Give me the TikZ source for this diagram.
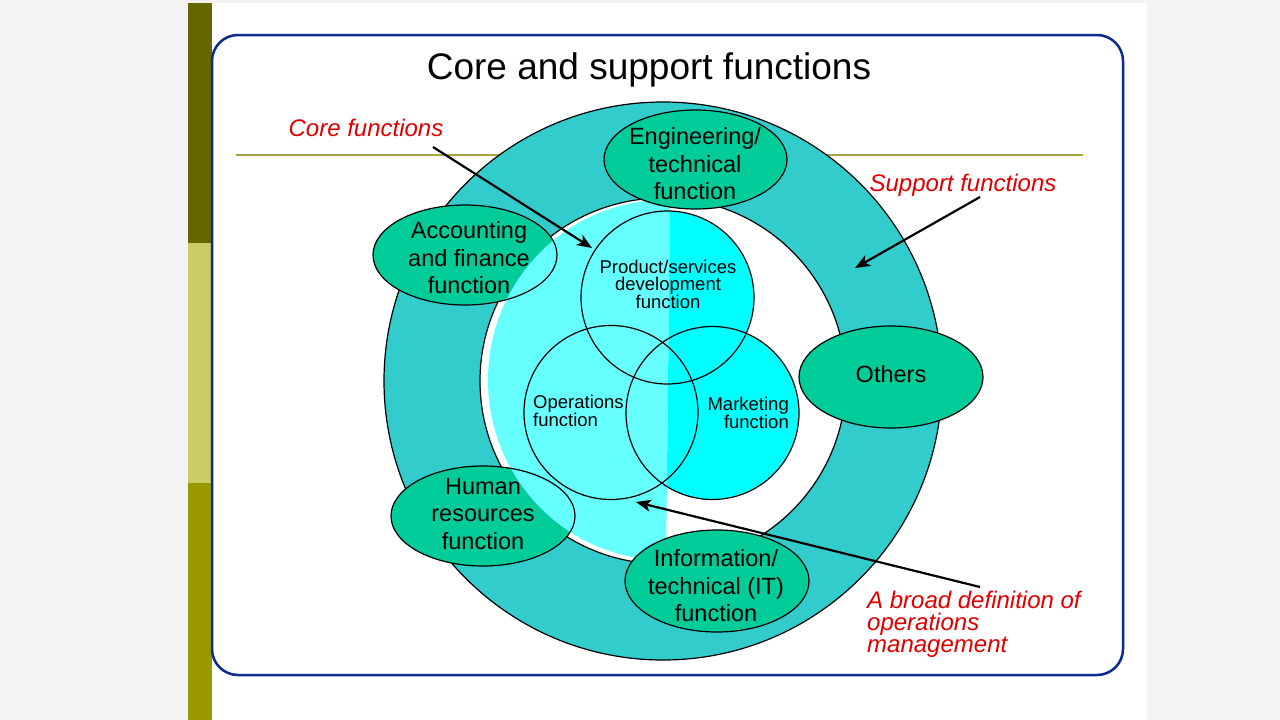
\documentclass[tikz,border=0pt]{standalone}
\usepackage{fontspec}
\setmainfont{Liberation Sans}
\usetikzlibrary{arrows.meta,shapes.geometric}
\definecolor{pagegray}{HTML}{F3F3F3}
\definecolor{bardark}{HTML}{666600}
\definecolor{barlight}{HTML}{CCCC66}
\definecolor{barolive}{HTML}{999900}
\definecolor{framec}{HTML}{0A2C8C}
\definecolor{olivec}{HTML}{A5A53C}
\definecolor{ringc}{HTML}{33CCCC}
\definecolor{greenc}{HTML}{00CC99}
\definecolor{lcyan}{HTML}{66FFFF}
\definecolor{cyanc}{HTML}{00FFFF}
\definecolor{redc}{HTML}{E00000}
\begin{document}
\begin{tikzpicture}[x=1pt,y=-1pt,
  ellfill/.style={fill=greenc},
  elloutline/.style={draw=black,line width=1.2pt},
  elltext/.style={align=center,inner sep=0pt,font=\fontsize{23.5}{27.5}\selectfont},
  venn/.style={circle,draw=black,line width=1.2pt,inner sep=0pt,minimum size=#1},
  venntext/.style={inner sep=0pt,font=\fontsize{18.5}{17.5}\selectfont},
  redlbl/.style={text=redc,inner sep=0pt,font=\fontsize{24}{22}\selectfont\itshape},
  arr/.style={draw=black,line width=2.2pt,-{Stealth[length=15pt,width=12pt,inset=4pt]}}
]
\useasboundingbox (0,0) rectangle (1280,720);
% slide background
\fill[pagegray] (0,0) rectangle (1280,720);
\fill[white] (188,3) rectangle (1147,720);
\fill[bardark] (188,3) rectangle (212,243);
\fill[barlight] (188,243) rectangle (212,483);
\fill[barolive] (188,483) rectangle (212,720);
\draw[framec,line width=2.5pt,rounded corners=26pt] (212,35) rectangle (1123,675);
% title and rule
\node[inner sep=0pt,font=\fontsize{37}{40}\selectfont] (title) at (649,70) {Core and support functions};
\draw[olivec,line width=1.6pt] (236,155) -- (1083,155);
% ring
\fill[ringc,even odd rule] (663,381) circle[radius=279pt] (663,381) circle[radius=183pt];
\draw[black,line width=1.2pt] (663,381) circle[radius=279pt];
\draw[black,line width=1.2pt] (663,381) circle[radius=183pt];
% fills of ellipses that lie under the core area
\path[ellfill] (465,255) ellipse[x radius=92pt,y radius=50pt];
\path[ellfill] (483,516) ellipse[x radius=92pt,y radius=50pt];
% light cyan core area
\begin{scope}
  \clip (665,380) ellipse[x radius=177pt,y radius=180pt];
  \fill[lcyan] (400,150) -- (670.6,150) -- (665.6,600) -- (400,600) -- cycle;
\end{scope}
% cyan right halves of circles
\begin{scope}
  \clip (670.6,150) -- (900,150) -- (900,600) -- (665.6,600) -- cycle;
  \fill[cyanc] (667.5,297.5) circle[radius=86.5pt] (611,412.5) circle[radius=87pt] (712.5,413) circle[radius=86.5pt];
\end{scope}
% outlines of ellipses under the core area
\path[elloutline] (465,255) ellipse[x radius=92pt,y radius=50pt];
\path[elloutline] (483,516) ellipse[x radius=92pt,y radius=50pt];
\node[elltext] (acc) at (469,258) {Accounting\\and finance\\function};
\node[elltext] (hr) at (483,514) {Human\\resources\\function};
% venn circles
\node[venn=173pt] (prod) at (667.5,297.5) {};
\node[venn=174pt] (ops) at (611,412.5) {};
\node[venn=173pt] (mkt) at (712.5,413) {};
\node[venntext,align=center] (prodt) at (668,284) {Product/services\\development\\function};
\node[venntext,align=left,anchor=west] (opst) at (533,411) {Operations\\function};
\node[venntext,align=right,anchor=east] (mktt) at (789,413) {Marketing\\function};
% support ellipses on top
\path[ellfill,elloutline] (695.5,159.5) ellipse[x radius=91.5pt,y radius=49.5pt];
\node[elltext] (eng) at (695,164) {Engineering/\\technical\\function};
\path[ellfill,elloutline] (717,581) ellipse[x radius=92pt,y radius=51pt];
\node[elltext] (it) at (716,586) {Information/\\technical (IT)\\function};
\path[ellfill,elloutline] (891,377) ellipse[x radius=92pt,y radius=51pt];
\node[elltext] (oth) at (891,374) {Others};
% red labels and arrows
\node[redlbl] (corel) at (366,128) {Core functions};
\node[redlbl] (supl) at (963,185) {Support functions};
\node[redlbl,align=left,anchor=west] (broadl) at (867,624) {A broad definition of\\operations\\management};
\coordinate (coreS) at (433,147);
\coordinate (coreE) at (592,248);
\coordinate (supS) at (980,197);
\coordinate (supE) at (855,268);
\coordinate (brS) at (980,587);
\coordinate (brE) at (636,502);
\draw[arr] (coreS) -- (coreE);
\draw[arr] (supS) -- (supE);
\draw[arr] (brS) -- (brE);
\end{tikzpicture}
\end{document}
